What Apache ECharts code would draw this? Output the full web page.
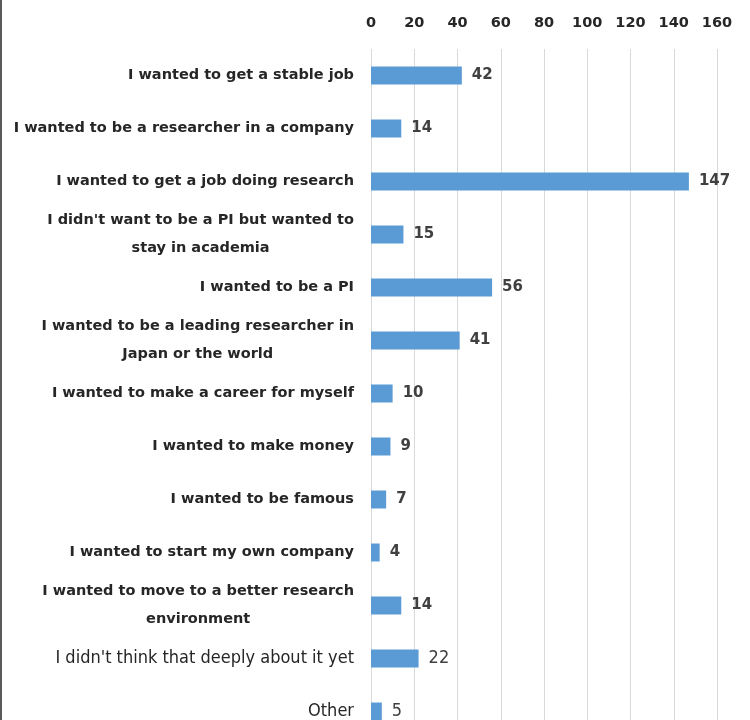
<!DOCTYPE html>
<html>
<head>
<meta charset="utf-8">
<script src="https://cdn.jsdelivr.net/npm/echarts@6/dist/echarts.min.js"></script>
<style>html,body{margin:0;padding:0;background:#fff;overflow:hidden;}#chart{width:750px;height:738px;}</style>
</head>
<body>
<div id="chart"></div>
<script>
const categories = [
  "I wanted to get a stable job",
  "I wanted to be a researcher in a company",
  "I wanted to get a job doing research",
  "I didn't want to be a PI but wanted to\nstay in academia",
  "I wanted to be a PI",
  "I wanted to be a leading researcher in\nJapan or the world",
  "I wanted to make a career for myself",
  "I wanted to make money",
  "I wanted to be famous",
  "I wanted to start my own company",
  "I wanted to move to a better research\nenvironment",
  "I didn't think that deeply about it yet",
  "Other"
];
const values = [42, 14, 147, 15, 56, 41, 10, 9, 7, 4, 14, 22, 5];
const narrowCategories = ["I didn't think that deeply about it yet", "Other"];
const axisMin = 0, axisMax = 160, axisStep = 20;

const FONT = "'DejaVu Sans', Verdana, sans-serif";
const NARROW = "'DejaVu Sans Condensed', 'Liberation Sans Narrow', 'DejaVu Sans', sans-serif";

const chart = echarts.init(document.getElementById('chart'), null, {renderer: 'canvas'});
chart.setOption({
  backgroundColor: '#ffffff',
  animation: false,
  grid: {left: 371, top: 49, right: 33, bottom: 0, containLabel: false},
  graphic: [{
    type: 'rect', left: 0, top: 0,
    shape: {x: 0, y: 0, width: 2, height: 738},
    style: {fill: '#5a5a5a'}
  }],
  xAxis: {
    type: 'value', position: 'top', min: axisMin, max: axisMax, interval: axisStep,
    axisLine: {show: false}, axisTick: {show: false},
    splitLine: {show: true, lineStyle: {color: '#d9d9d9', width: 1}},
    axisLabel: {fontFamily: FONT, fontWeight: 'bold', fontSize: 14.5, color: '#262626', margin: 18}
  },
  yAxis: {
    type: 'category', data: categories, inverse: true,
    axisLine: {show: false}, axisTick: {show: false}, splitLine: {show: false},
    axisLabel: {
      margin: 17, interval: 0,
      formatter: function (v) {
        const style = narrowCategories.indexOf(v) >= 0 ? 'n' : 'c';
        return v.split('\n').map(function (s) { return '{' + style + '|' + s + '}'; }).join('\n');
      },
      rich: {
        c: {fontFamily: FONT, fontWeight: 'bold', fontSize: 14.5, color: '#262626', align: 'center', lineHeight: 28},
        n: {fontFamily: NARROW, fontWeight: 'normal', fontSize: 18, color: '#262626', align: 'center', lineHeight: 28}
      }
    }
  },
  series: [{
    type: 'bar',
    data: values.map(function (v, i) {
      const narrow = narrowCategories.indexOf(categories[i]) >= 0;
      return narrow ? {value: v, label: {fontFamily: NARROW, fontWeight: 'normal', fontSize: 18}} : v;
    }),
    barWidth: 18,
    itemStyle: {color: '#5b9bd5'},
    label: {show: true, position: 'right', distance: 10, fontFamily: FONT, fontWeight: 'bold', fontSize: 15, color: '#404040'}
  }]
});
</script>
</body>
</html>
